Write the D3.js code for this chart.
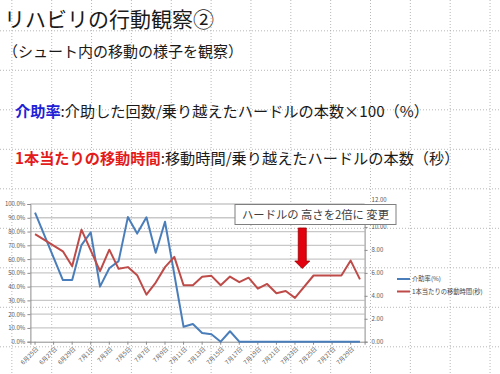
<!DOCTYPE html>
<html>
<head>
<meta charset="utf-8">
<script src="https://cdnjs.cloudflare.com/ajax/libs/d3/7.8.5/d3.min.js"></script>
<style>
    body { margin: 0; background: #fff; }
    svg { display: block; font-family: "Noto Sans CJK JP", "Noto Sans", sans-serif; }
</style>
</head>
<body>
<svg width="500" height="374"></svg>
<script>
    // days on the category axis (label shown every second day)
    var days = ["6月25日","6月26日","6月27日","6月28日","6月29日","6月30日","7月1日","7月2日","7月3日",
        "7月4日","7月5日","7月6日","7月7日","7月8日","7月9日","7月10日","7月11日","7月12日","7月13日",
        "7月14日","7月15日","7月16日","7月17日","7月18日","7月19日","7月20日","7月21日","7月22日",
        "7月23日","7月24日","7月25日","7月26日","7月27日","7月28日","7月29日","7月30日"];

    // 介助率 (fraction), null = no observation that day
    var kaijo = [0.937, null, null, 0.448, 0.448, 0.702, 0.794, 0.400, 0.533, 0.585, 0.905, 0.785, 0.903,
        0.646, 0.871, null, 0.108, 0.128, 0.063, 0.054, 0.0, 0.076, 0.0, 0.0, 0.0, 0.0, 0.0, 0.0, 0.0,
        0.0, 0.0, 0.0, 0.0, 0.0, 0.0, 0.0];

    // 1本当たりの移動時間 (sec)
    var idou = [9.38, null, null, 7.88, 6.58, 9.76, null, 6.15, 8.02, 6.35, 6.5, 5.8, 4.1, 5.15, 6.5,
        7.39, 4.92, 4.92, 5.65, 5.74, 4.92, 5.68, 5.19, 5.58, 4.62, 5.03, 4.22, 4.42, 3.82, null,
        5.77, 5.77, 5.77, 5.77, 7.07, 5.43];

    var leftTicks = [0, 0.1, 0.2, 0.3, 0.4, 0.5, 0.6, 0.7, 0.8, 0.9, 1.0];
    var rightTicks = [0, 2, 4, 6, 8, 10, 12];
    var seriesNames = ["介助率(%)", "1本当たりの移動時間(秒)"];
    var noteText = "ハードルの 高さを2倍に 変更";
    var noteDay = "7月24日";

    var svg = d3.select("svg");
    var blue = "#4a7ebb", red = "#be4b48";

    // slide grid (dotted)
    var bg = svg.append("g");
    d3.range(-1, 12).forEach(function(k) {
        var gx = 51.7 + 39.85 * k;
        bg.append("line").attr("x1", gx).attr("x2", gx).attr("y1", 0).attr("y2", 374);
    });
    d3.range(0, 10).forEach(function(k) {
        var gy = 30.8 + 39.5 * k;
        bg.append("line").attr("x1", 0).attr("x2", 500).attr("y1", gy).attr("y2", gy);
    });
    bg.selectAll("line").attr("stroke", "#a6a6a6").attr("stroke-width", 0.8)
        .attr("stroke-dasharray", "1,2");

    // heading texts
    svg.append("text").attr("x", 4).attr("y", 27).attr("font-size", 21).attr("fill", "#1a1a1a")
        .text("リハビリの行動観察②");
    svg.append("text").attr("x", 3).attr("y", 57).attr("font-size", 15).attr("fill", "#1a1a1a")
        .text("（シュート内の移動の様子を観察）");

    var t3 = svg.append("text").attr("x", 15).attr("y", 117).attr("font-size", 15.2).attr("fill", "#1a1a1a");
    t3.append("tspan").attr("fill", "#1f1fd6").attr("font-weight", "bold").text("介助率");
    t3.append("tspan").text(":介助した回数/乗り越えたハードルの本数×100（%）");

    var t4 = svg.append("text").attr("x", 15).attr("y", 164).attr("font-size", 15.2).attr("fill", "#1a1a1a");
    t4.append("tspan").attr("fill", "#e31b1b").attr("font-weight", "bold").text("1本当たりの移動時間");
    t4.append("tspan").text(":移動時間/乗り越えたハードルの本数（秒）");

    // chart
    var x = d3.scaleBand().domain(days).range([30.4, 364.6]);
    var yL = d3.scaleLinear().domain([0, 1]).range([341.7, 204]);
    var yR = d3.scaleLinear().domain([0, 12]).range([341.7, 204]);
    var cx = function(d) { return x(d) + x.bandwidth() / 2; };

    var chart = svg.append("g");

    chart.selectAll(".grid").data(leftTicks.slice(1)).enter().append("line")
        .attr("x1", 30.4).attr("x2", 364.6)
        .attr("y1", function(d) { return yL(d); }).attr("y2", function(d) { return yL(d); })
        .attr("stroke", "#c8c8c8").attr("stroke-width", 1.3);

    var axL = chart.append("g").attr("transform", "translate(30.4,0)")
        .call(d3.axisLeft(yL).tickValues(leftTicks).tickFormat(d3.format(".1%")).tickSize(3).tickPadding(2));
    var axR = chart.append("g").attr("transform", "translate(364.6,0)")
        .call(d3.axisRight(yR).tickValues(rightTicks).tickFormat(d3.format(".2f")).tickSize(3).tickPadding(4));
    var axB = chart.append("g").attr("transform", "translate(0,341.7)")
        .call(d3.axisBottom(x).tickValues(days.filter(function(d, i) { return i % 2 == 0; }))
            .tickSize(3).tickPadding(2));

    [axL, axR, axB].forEach(function(a) {
        a.select(".domain").attr("stroke", "#8c8c8c");
        a.selectAll(".tick line").attr("stroke", "#8c8c8c");
        a.selectAll("text").attr("font-size", 6).attr("fill", "#555")
            .attr("font-family", "Noto Sans CJK JP");
    });
    axB.selectAll("text").attr("text-anchor", "end").attr("dy", "0.3em")
        .attr("transform", "translate(-1,3) rotate(-45)");
    // top right label peeks out above the note box
    axR.selectAll(".tick text").filter(function(d) { return d == 12; }).attr("dy", "-0.4em");

    var line = function(ys, vals) {
        var pts = days.map(function(d, i) { return [cx(d), vals[i]]; })
            .filter(function(p) { return p[1] != null; });
        return d3.line().x(function(p) { return p[0]; }).y(function(p) { return ys(p[1]); })(pts);
    };

    chart.append("path").attr("d", line(yL, kaijo)).attr("fill", "none")
        .attr("stroke", blue).attr("stroke-width", 2).attr("stroke-linejoin", "round");
    chart.append("path").attr("d", line(yR, idou)).attr("fill", "none")
        .attr("stroke", red).attr("stroke-width", 2).attr("stroke-linejoin", "round");

    // legend
    var leg = chart.append("g").attr("transform", "translate(397,279)");
    [blue, red].forEach(function(c, i) {
        leg.append("line").attr("x1", 0).attr("x2", 13).attr("y1", i * 12.5).attr("y2", i * 12.5)
            .attr("stroke", c).attr("stroke-width", 2);
        leg.append("text").attr("x", 15).attr("y", i * 12.5).attr("dy", "0.35em")
            .attr("font-size", 6.3).attr("fill", "#444").text(seriesNames[i]);
    });

    // annotation: box + arrow
    var ax = cx(noteDay) - 2;
    chart.append("rect").attr("x", 235).attr("y", 204.5).attr("width", 161).attr("height", 20)
        .attr("fill", "#fff").attr("stroke", "#7f7f7f").attr("stroke-width", 1);
    chart.append("text").attr("x", 315.5).attr("y", 219).attr("text-anchor", "middle")
        .attr("font-size", 11.3).attr("fill", "#404040").text(noteText);
    chart.append("path")
        .attr("d", "M" + (ax - 4) + ",228 H" + (ax + 4) + " V261 H" + (ax + 7.5) + " L" + ax + ",268.5 L"
            + (ax - 7.5) + ",261 H" + (ax - 4) + " Z")
        .attr("fill", "#e3000f").attr("stroke", "#9b0000").attr("stroke-width", 0.8);
</script>
</body>
</html>
